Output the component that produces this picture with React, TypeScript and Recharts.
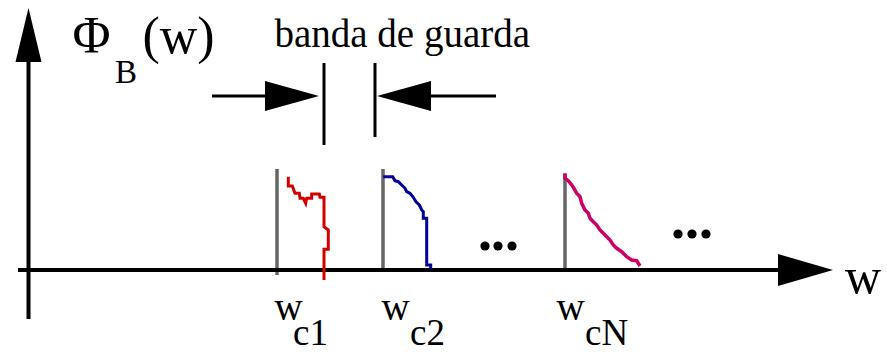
import React from "react";
import { ComposedChart, Line, Scatter, XAxis, YAxis } from "recharts";

// Units: arbitrary frequency (w) and spectral amplitude Φ_B(w), origin at axis crossing.
const X_DOMAIN: [number, number] = [-2.85, 85.85];
const Y_DOMAIN: [number, number] = [-8.3, 27.0];

// Axes
const yAxisLine = [{ x: 0, y: -4.9 }, { x: 0, y: 20.9 }];
const xAxisLine = [{ x: -1.05, y: 0 }, { x: 75.0, y: 0 }];
const yAxisTip = [{ x: 0, y: 26.2 }];
const xAxisTip = [{ x: 80.45, y: 0 }];

// Carrier markers w_c1, w_c2, w_cN
const carrier1 = [{ x: 24.85, y: 10.1 }, { x: 24.85, y: -0.5 }];
const carrier2 = [{ x: 35.45, y: 10.1 }, { x: 35.45, y: 0.2 }];
const carrierN = [{ x: 53.65, y: 9.6 }, { x: 53.65, y: 0.2 }];

// Spectra of the channels
const spectrum1 = [
  { x: 25.98, y: 9.33 }, { x: 25.98, y: 8.4 }, { x: 26.38, y: 8.4 }, { x: 26.65, y: 7.67 },
  { x: 27.08, y: 7.67 }, { x: 27.15, y: 7.17 }, { x: 27.48, y: 7.17 }, { x: 27.72, y: 6.67 },
  { x: 27.82, y: 7.17 }, { x: 28.32, y: 7.17 }, { x: 28.32, y: 7.6 }, { x: 29.08, y: 7.6 },
  { x: 29.15, y: 7.27 }, { x: 29.55, y: 7.27 }, { x: 29.55, y: 4.33 }, { x: 29.98, y: 4.0 },
  { x: 29.98, y: 2.07 }, { x: 29.55, y: 2.07 }, { x: 29.55, y: -1.0 },
];
const spectrum2 = [
  { x: 35.48, y: 9.33 }, { x: 36.42, y: 9.33 }, { x: 36.65, y: 8.93 }, { x: 36.98, y: 8.83 },
  { x: 37.32, y: 8.5 }, { x: 37.65, y: 8.17 }, { x: 37.82, y: 7.83 }, { x: 38.15, y: 7.67 },
  { x: 38.48, y: 7.27 }, { x: 38.75, y: 6.83 }, { x: 39.08, y: 6.5 }, { x: 39.32, y: 6.0 },
  { x: 39.48, y: 5.83 }, { x: 39.48, y: 5.17 }, { x: 39.82, y: 5.17 }, { x: 39.82, y: 0.5 },
  { x: 40.22, y: 0.5 }, { x: 40.22, y: 0.07 },
];
const spectrumN = [
  { x: 53.65, y: 9.67 }, { x: 53.65, y: 9.17 }, { x: 53.98, y: 8.93 }, { x: 54.32, y: 8.5 },
  { x: 54.48, y: 8.27 }, { x: 54.82, y: 7.67 }, { x: 55.15, y: 7.33 }, { x: 55.32, y: 6.67 },
  { x: 55.65, y: 6.0 }, { x: 55.98, y: 5.67 }, { x: 56.15, y: 5.17 }, { x: 56.48, y: 4.83 },
  { x: 56.82, y: 4.5 }, { x: 57.15, y: 4.0 }, { x: 57.48, y: 3.67 }, { x: 57.82, y: 3.33 },
  { x: 58.15, y: 3.0 }, { x: 58.48, y: 2.5 }, { x: 58.82, y: 2.17 }, { x: 59.32, y: 1.83 },
  { x: 59.82, y: 1.33 }, { x: 60.32, y: 1.0 }, { x: 60.82, y: 0.93 }, { x: 61.15, y: 0.4 },
];

// Guard band indicator
const guardLeftBar = [{ x: 29.55, y: 20.7 }, { x: 29.55, y: 12.5 }];
const guardRightBar = [{ x: 34.65, y: 20.7 }, { x: 34.65, y: 13.3 }];
const guardLeftShaft = [{ x: 18.35, y: 17.4 }, { x: 24.0, y: 17.4 }];
const guardRightShaft = [{ x: 40.0, y: 17.4 }, { x: 46.75, y: 17.4 }];
const guardLeftTip = [{ x: 29.05, y: 17.4 }];
const guardRightTip = [{ x: 34.85, y: 17.4 }];

// Ellipsis dots
const ellipsisDots = [
  { x: 45.65, y: 2.4 }, { x: 46.95, y: 2.4 }, { x: 48.35, y: 2.4 },
  { x: 64.95, y: 3.6 }, { x: 66.35, y: 3.6 }, { x: 67.75, y: 3.6 },
];

// Text labels
const titleLabels = [
  { x: 4.4, y: 21.7, text: "Φ", kind: "big" },
  { x: 8.65, y: 18.7, text: "B", kind: "sub" },
  { x: 11.4, y: 21.7, text: "(w)", kind: "big" },
  { x: 24.6, y: 22.3, text: "banda de guarda", kind: "mid" },
  { x: 81.65, y: -2.3, text: "w", kind: "axis" },
];
const carrierLabels = [
  { x: 24.6, y: -5.0, text: "w", kind: "lab" },
  { x: 26.45, y: -7.5, text: "c1", kind: "sublab" },
  { x: 35.3, y: -5.0, text: "w", kind: "lab" },
  { x: 38.15, y: -7.5, text: "c2", kind: "sublab" },
  { x: 52.8, y: -5.0, text: "w", kind: "lab" },
  { x: 55.65, y: -7.5, text: "cN", kind: "sublab" },
];

const FONT = "'Liberation Serif', 'Times New Roman', Times, serif";
const SIZES: Record<string, number> = { big: 52, sub: 33, mid: 39, axis: 50, lab: 39, sublab: 37 };

const TextShape = (props: any) => {
  const { cx, cy, payload } = props;
  return (
    <text x={cx} y={cy} fontFamily={FONT} fontSize={SIZES[payload.kind]} fill="#000">
      {payload.text}
    </text>
  );
};

const UpArrow = (props: any) => {
  const { cx, cy } = props;
  return <polygon points={`${cx},${cy} ${cx - 13},${cy + 54} ${cx + 13},${cy + 54}`} fill="#000" />;
};
const RightArrowBig = (props: any) => {
  const { cx, cy } = props;
  return <polygon points={`${cx},${cy} ${cx - 55},${cy - 16} ${cx - 55},${cy + 16}`} fill="#000" />;
};
const RightArrow = (props: any) => {
  const { cx, cy } = props;
  return <polygon points={`${cx},${cy} ${cx - 54},${cy - 15} ${cx - 54},${cy + 15}`} fill="#000" />;
};
const LeftArrow = (props: any) => {
  const { cx, cy } = props;
  return <polygon points={`${cx},${cy} ${cx + 54},${cy - 15} ${cx + 54},${cy + 15}`} fill="#000" />;
};
const Dot = (props: any) => {
  const { cx, cy } = props;
  return <circle cx={cx} cy={cy} r={4.6} fill="#000" />;
};

const seg = (data: any[], color: string, width: number, key: string) => (
  <Line
    key={key}
    data={data}
    dataKey="y"
    type="linear"
    stroke={color}
    strokeWidth={width}
    dot={false}
    activeDot={false}
    isAnimationActive={false}
    strokeLinejoin="miter"
    strokeLinecap="butt"
  />
);

export default function App() {
  return (
    <div style={{ position: "absolute", left: 0, top: 0, width: 887, height: 353, background: "#fff" }}>
      <ComposedChart width={887} height={353} margin={{ top: 0, right: 0, bottom: 0, left: 0 }}>
        <XAxis type="number" dataKey="x" domain={X_DOMAIN} allowDataOverflow hide />
        <YAxis type="number" dataKey="y" domain={Y_DOMAIN} allowDataOverflow hide />
        {seg(carrier1, "#666666", 3.5, "c1")}
        {seg(carrier2, "#666666", 3.5, "c2")}
        {seg(carrierN, "#666666", 3.5, "cN")}
        {seg(xAxisLine, "#000", 4, "xa")}
        {seg(yAxisLine, "#000", 4, "ya")}
        {seg(spectrum1, "#d40000", 3, "s1")}
        {seg(spectrum2, "#000099", 3, "s2")}
        {seg(spectrumN, "#cc0066", 3.5, "sN")}
        {seg(guardLeftBar, "#000", 3, "gl")}
        {seg(guardRightBar, "#000", 3, "gr")}
        {seg(guardLeftShaft, "#000", 3, "gls")}
        {seg(guardRightShaft, "#000", 3, "grs")}
        <Scatter data={yAxisTip} shape={UpArrow} isAnimationActive={false} />
        <Scatter data={xAxisTip} shape={RightArrowBig} isAnimationActive={false} />
        <Scatter data={guardLeftTip} shape={RightArrow} isAnimationActive={false} />
        <Scatter data={guardRightTip} shape={LeftArrow} isAnimationActive={false} />
        <Scatter data={ellipsisDots} shape={Dot} isAnimationActive={false} />
        <Scatter data={titleLabels} shape={TextShape} isAnimationActive={false} />
        <Scatter data={carrierLabels} shape={TextShape} isAnimationActive={false} />
      </ComposedChart>
    </div>
  );
}
